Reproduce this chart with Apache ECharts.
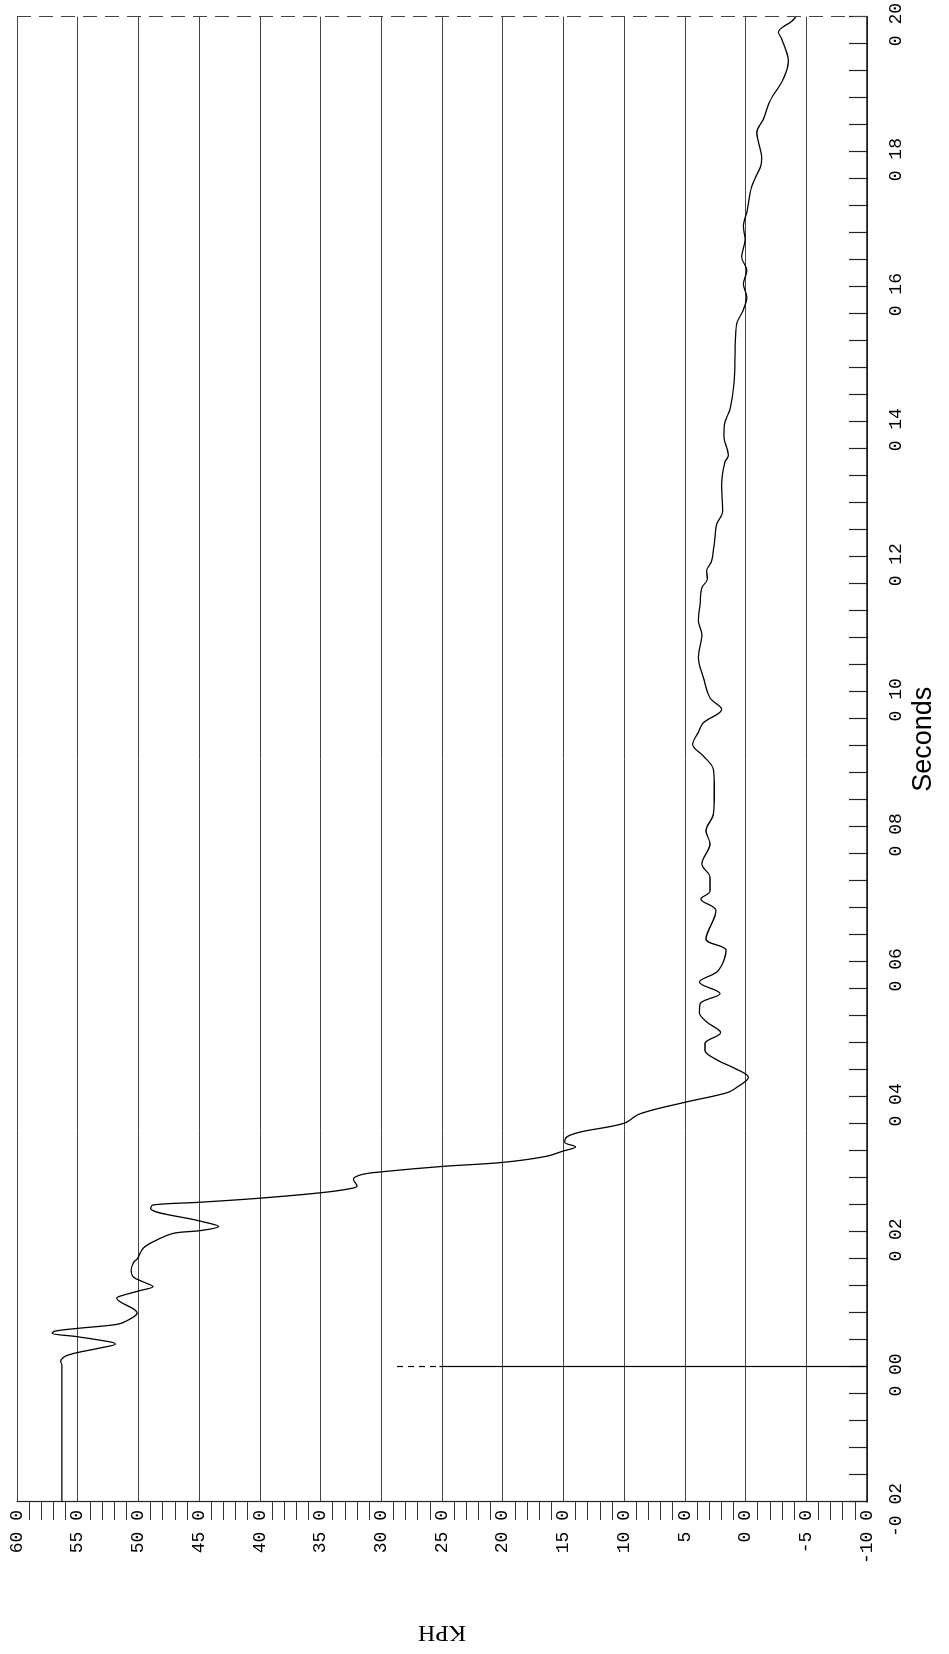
<!DOCTYPE html>
<html>
<head>
<meta charset="utf-8">
<script src="https://cdn.jsdelivr.net/npm/echarts@6/dist/echarts.min.js"></script>
<style>
  html, body { margin: 0; padding: 0; background: #fff; overflow: hidden; }
  body { width: 949px; height: 1654px; position: relative; }
  #chart {
    position: absolute; left: 0; top: 0;
    width: 1654px; height: 949px;
    transform-origin: 0 0;
    transform: translateY(1654px) rotate(-90deg);
    background: #fff;
  }
</style>
</head>
<body>
<div id="chart"></div>
<script>
// ---- data (seconds vs KPH) ----
const timeSec = [
  -0.020, -0.005, 0.0003, 0.0008, 0.0017, 0.0028, 0.0034, 0.0037, 0.0045, 0.0050,
  0.0053, 0.0057, 0.0063, 0.0068, 0.0080, 0.0102, 0.0106, 0.0113, 0.0119, 0.0126,
  0.0133, 0.0143, 0.0155, 0.0160, 0.0176, 0.0188, 0.0198, 0.0202, 0.0208, 0.0216,
  0.0235, 0.0240, 0.0244, 0.0250, 0.0258, 0.0264, 0.0268, 0.0278, 0.0285, 0.0289,
  0.0297, 0.0303, 0.0312, 0.0320, 0.0326, 0.0333, 0.0341, 0.0348, 0.0361, 0.0375,
  0.0392, 0.0406, 0.0414, 0.0429, 0.0442, 0.0455, 0.0469, 0.0479, 0.0495, 0.0511,
  0.0525, 0.0538, 0.0553, 0.0570, 0.0587, 0.0617, 0.0634, 0.0676, 0.0693, 0.0705,
  0.0725, 0.0745, 0.0775, 0.0794, 0.0819, 0.0853, 0.0885, 0.0905, 0.0922, 0.0940,
  0.0954, 0.0974, 0.0991, 0.1021, 0.1051, 0.1085, 0.1105, 0.1130, 0.1154, 0.1167,
  0.1179, 0.1194, 0.1228, 0.1248, 0.1267, 0.1307, 0.1340, 0.1350, 0.1379, 0.1399,
  0.1419, 0.1459, 0.1512, 0.1545, 0.1564, 0.1584, 0.1604, 0.1624, 0.1644, 0.1670,
  0.1690, 0.1710, 0.1749, 0.1776, 0.1789, 0.1815, 0.1828, 0.1848, 0.1875, 0.1908,
  0.1934, 0.1967, 0.1977, 0.1993, 0.2000
];
const speedKph = [
  56.3, 56.3, 56.3, 56.4, 55.9, 53.2, 51.9, 52.3, 55.1, 57.1,
  56.9, 55.1, 51.8, 51.0, 50.1, 51.8, 51.3, 49.9, 48.8, 49.6,
  50.4, 50.6, 50.4, 50.1, 49.6, 48.5, 47.1, 44.9, 43.4, 44.9,
  49.0, 48.8, 44.9, 40.0, 35.0, 32.6, 32.0, 32.3, 31.6, 30.0,
  25.0, 20.0, 16.4, 15.0, 14.0, 14.9, 14.7, 13.6, 10.0, 8.7,
  5.0, 1.56, 0.73, -0.23, 0.86, 2.38, 3.34, 3.34, 2.05, 3.2,
  3.8, 3.75, 2.1, 3.8, 2.25, 1.6, 3.26, 2.44, 3.68, 2.93,
  2.93, 3.6, 2.93, 3.26, 2.66, 2.58, 2.66, 3.48, 4.36, 3.89,
  3.48, 1.97, 2.93, 3.48, 3.89, 3.6, 3.89, 3.75, 3.6, 3.15,
  3.2, 2.79, 2.52, 2.38, 1.89, 1.97, 1.70, 1.42, 1.78, 1.70,
  1.28, 0.95, 0.86, 0.73, 0.23, -0.10, 0.18, -0.10, 0.32, 0.04,
  0.18, -0.10, -0.51, -1.19, -1.33, -1.05, -0.92, -1.46, -2.01, -3.11,
  -3.52, -2.97, -2.70, -3.80, -4.15
];
// t = 0 trigger marker
const markerTime = 0.0;
const markerTopKph = 28.7;
const markerDashEndKph = 25.2;

// axis ranges / ticks
const timeMin = -0.02, timeMax = 0.20, timeStep = 0.02;
const kphMin = -10, kphMax = 60, kphStep = 5;

const seriesData = timeSec.map((t, i) => [t, speedKph[i]]);

const chart = echarts.init(document.getElementById('chart'), null, { renderer: 'canvas' });
const monoFont = '"Liberation Mono", "DejaVu Sans Mono", monospace';

chart.setOption({
  animation: false,
  backgroundColor: '#ffffff',
  grid: { left: 152, right: 15, top: 17, bottom: 82, containLabel: false },
  xAxis: {
    type: 'value',
    min: timeMin, max: timeMax, interval: timeStep,
    position: 'bottom',
    axisLine: { show: true, onZero: false, lineStyle: { color: '#111', width: 1.6 } },
    axisTick: { show: true, inside: true, length: 18, lineStyle: { color: '#222', width: 1.2 } },
    minorTick: { show: true, splitNumber: 5, length: 18, lineStyle: { color: '#222', width: 1.2 } },
    axisLabel: {
      margin: 20, color: '#000', fontFamily: monoFont, fontSize: 18,
      padding: [0, 16, 0, 0],
      formatter: v => v.toFixed(2).replace('.', ' ')
    },
    splitLine: { show: false },
    name: 'Seconds', nameLocation: 'middle', nameGap: 34,
    nameTextStyle: { fontFamily: '"Liberation Sans", Arial, sans-serif', fontSize: 27, color: '#000', padding: [0, 0, 0, 40] }
  },
  yAxis: {
    type: 'value',
    min: kphMin, max: kphMax, interval: kphStep,
    axisLine: { show: true, onZero: false, lineStyle: { color: '#222', width: 1.2 } },
    axisTick: { show: false },
    minorTick: { show: true, splitNumber: 5, length: 18, lineStyle: { color: '#333', width: 1 } },
    axisLabel: {
      margin: 8, color: '#000', fontFamily: monoFont, fontSize: 18,
      formatter: v => v.toFixed(1).replace('.', ' ')
    },
    splitLine: { show: true, lineStyle: { color: '#444', width: 1 } },
    name: 'KPH', nameLocation: 'middle', nameGap: 118, nameRotate: 90,
    nameTextStyle: { fontFamily: '"Liberation Serif", "DejaVu Serif", serif', fontSize: 24, color: '#000' }
  },
  series: [{
    type: 'line',
    data: seriesData,
    showSymbol: false,
    smooth: 0.35,
    lineStyle: { color: '#000', width: 1.3 },
    markLine: {
      silent: true,
      symbol: ['none', 'none'],
      label: { show: false },
      data: [
        [{ coord: [markerTime, markerTopKph], lineStyle: { type: [6, 5], color: '#000', width: 1.2 } },
         { coord: [markerTime, markerDashEndKph] }],
        [{ coord: [markerTime, markerDashEndKph], lineStyle: { type: 'solid', color: '#000', width: 1.2 } },
         { coord: [markerTime, kphMin] }],
        [{ coord: [timeMax, kphMax], lineStyle: { type: [14, 8], color: '#444', width: 1 } },
         { coord: [timeMax, kphMin] }]
      ]
    }
  }]
});
</script>
</body>
</html>
